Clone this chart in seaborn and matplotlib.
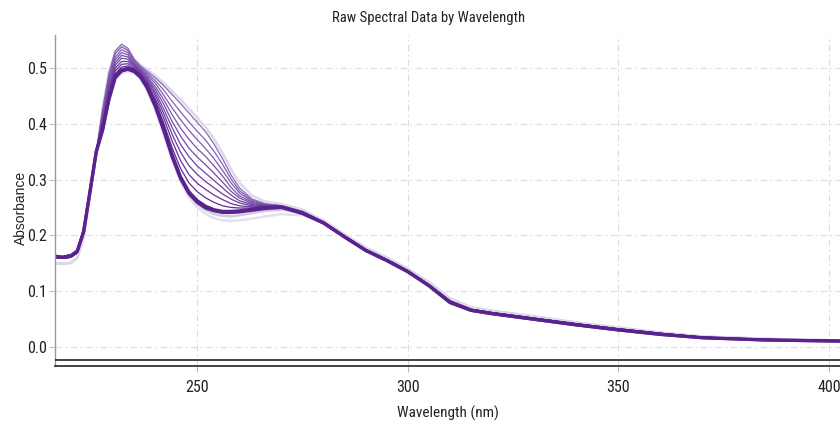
import numpy as np
import pandas as pd
import matplotlib
matplotlib.use("Agg")
import matplotlib.pyplot as plt
from matplotlib.ticker import FormatStrFormatter
import seaborn as sns

# ---------------- data ----------------
wl_head = [216, 218, 220, 221.5, 223, 224.5, 226]
wl_fan = [227.5, 229, 230.5, 232, 233.5, 235, 236.5, 238, 240, 242, 244, 246,
          248, 250, 252, 254, 256, 258, 260, 263, 266, 270, 275]
wl_tail = [280, 285, 290, 295, 300, 305, 310, 315, 320, 330, 340, 350, 360,
           370, 385, 403]

head_dark = [0.163, 0.161, 0.164, 0.172, 0.207, 0.278, 0.350]
head_mid = [0.160, 0.159, 0.161, 0.169, 0.205, 0.277, 0.349]
head_light = [0.150, 0.149, 0.151, 0.160, 0.198, 0.272, 0.346]

tail_dark = [0.222, 0.197, 0.173, 0.155, 0.135, 0.110, 0.080, 0.066, 0.060,
             0.050, 0.040, 0.031, 0.023, 0.017, 0.013, 0.011]
tail_mid = [0.224, 0.199, 0.175, 0.157, 0.137, 0.112, 0.083, 0.068, 0.062,
            0.052, 0.042, 0.033, 0.025, 0.018, 0.014, 0.012]
tail_light = [0.226, 0.201, 0.178, 0.160, 0.140, 0.116, 0.087, 0.071, 0.065,
              0.055, 0.044, 0.035, 0.026, 0.019, 0.015, 0.012]

c0 = [0.390, 0.445, 0.485, 0.496, 0.499, 0.495, 0.485, 0.468, 0.435, 0.393, 0.345, 0.305,
      0.278, 0.262, 0.252, 0.246, 0.243, 0.243, 0.244, 0.247, 0.250, 0.251, 0.240]
d1 = [0.388, 0.443, 0.482, 0.494, 0.497, 0.493, 0.483, 0.465, 0.431, 0.388, 0.341, 0.302,
      0.275, 0.259, 0.249, 0.244, 0.241, 0.241, 0.242, 0.245, 0.248, 0.250, 0.239]
c1 = [0.394, 0.450, 0.489, 0.501, 0.503, 0.497, 0.487, 0.471, 0.440, 0.401, 0.357, 0.320,
      0.294, 0.278, 0.267, 0.259, 0.253, 0.250, 0.249, 0.249, 0.251, 0.251, 0.240]
c2 = [0.398, 0.455, 0.494, 0.506, 0.507, 0.499, 0.489, 0.474, 0.445, 0.410, 0.369, 0.334,
      0.309, 0.293, 0.282, 0.272, 0.264, 0.257, 0.253, 0.251, 0.252, 0.252, 0.241]
c3 = [0.402, 0.460, 0.499, 0.511, 0.511, 0.502, 0.491, 0.477, 0.451, 0.418, 0.381, 0.349,
      0.325, 0.309, 0.296, 0.285, 0.274, 0.265, 0.258, 0.253, 0.252, 0.252, 0.241]
c4 = [0.406, 0.465, 0.504, 0.517, 0.515, 0.504, 0.493, 0.480, 0.456, 0.426, 0.393, 0.363,
      0.341, 0.324, 0.311, 0.298, 0.285, 0.272, 0.262, 0.255, 0.253, 0.252, 0.241]
c5 = [0.409, 0.470, 0.509, 0.522, 0.519, 0.506, 0.495, 0.482, 0.461, 0.435, 0.404, 0.378,
      0.356, 0.340, 0.326, 0.311, 0.295, 0.279, 0.267, 0.257, 0.254, 0.252, 0.242]
c6 = [0.413, 0.475, 0.514, 0.527, 0.523, 0.508, 0.497, 0.485, 0.466, 0.443, 0.416, 0.392,
      0.372, 0.355, 0.341, 0.324, 0.306, 0.286, 0.271, 0.259, 0.254, 0.252, 0.242]
c7 = [0.417, 0.480, 0.519, 0.532, 0.527, 0.511, 0.499, 0.488, 0.472, 0.451, 0.428, 0.407,
      0.388, 0.371, 0.355, 0.337, 0.316, 0.294, 0.276, 0.261, 0.255, 0.253, 0.242]
c8 = [0.421, 0.485, 0.525, 0.537, 0.531, 0.513, 0.501, 0.491, 0.477, 0.460, 0.440, 0.421,
      0.403, 0.386, 0.370, 0.350, 0.327, 0.301, 0.280, 0.263, 0.256, 0.253, 0.243]
c9 = [0.425, 0.490, 0.530, 0.542, 0.535, 0.515, 0.503, 0.494, 0.482, 0.468, 0.452, 0.436,
      0.419, 0.402, 0.385, 0.363, 0.337, 0.308, 0.285, 0.265, 0.257, 0.253, 0.243]
L1 = [0.385, 0.440, 0.478, 0.490, 0.494, 0.490, 0.480, 0.460, 0.425, 0.380, 0.335, 0.296,
      0.268, 0.250, 0.238, 0.231, 0.227, 0.226, 0.227, 0.230, 0.234, 0.238, 0.236]
L2 = [0.387, 0.442, 0.481, 0.493, 0.497, 0.493, 0.483, 0.464, 0.430, 0.387, 0.340, 0.300,
      0.273, 0.256, 0.245, 0.238, 0.235, 0.234, 0.236, 0.240, 0.244, 0.246, 0.241]
L3 = [0.428, 0.492, 0.528, 0.538, 0.532, 0.515, 0.505, 0.497, 0.486, 0.473, 0.458, 0.443,
      0.427, 0.410, 0.393, 0.372, 0.347, 0.318, 0.294, 0.271, 0.261, 0.256, 0.246]

x_ticks = [250, 300, 350, 400]
y_ticks = [0.0, 0.1, 0.2, 0.3, 0.4, 0.5]

# ---------------- assemble long-form tables ----------------
wl_all = wl_head + wl_fan + wl_tail


def build(curves):
    rows = []
    for name, (head, fan, tail) in curves.items():
        vals = head + fan + tail
        for w, v in zip(wl_all, vals):
            rows.append((name, w, v))
    return pd.DataFrame(rows, columns=["curve", "wavelength", "absorbance"])


light_df = build({"L1": (head_light, L1, tail_light),
                  "L2": (head_light, L2, tail_light),
                  "L3": (head_light, L3, tail_light)})
fan_df = build({"c9": (head_mid, c9, tail_mid), "c8": (head_mid, c8, tail_mid),
                "c7": (head_mid, c7, tail_mid), "c6": (head_mid, c6, tail_dark),
                "c5": (head_mid, c5, tail_mid), "c4": (head_dark, c4, tail_dark),
                "c3": (head_mid, c3, tail_mid), "c2": (head_dark, c2, tail_dark),
                "c1": (head_mid, c1, tail_mid)})
dark_df = build({"d1": (head_dark, d1, tail_dark), "c0": (head_dark, c0, tail_dark)})

light_pal = {"L1": "#e3e1ef", "L2": "#cfcae2", "L3": "#dcd8ea"}
fan_cols = sns.blend_palette(["#8c69ba", "#5f2b93"], 9)
fan_pal = {n: c for n, c in zip(["c9", "c8", "c7", "c6", "c5", "c4", "c3", "c2", "c1"], fan_cols)}
dark_pal = {"d1": "#5a228d", "c0": "#5a228d"}

# ---------------- figure ----------------
sns.set_theme(style="white")
plt.rcParams["font.family"] = ["Roboto Condensed", "Liberation Sans Narrow", "DejaVu Sans"]
plt.rcParams["font.stretch"] = "condensed"

fig = plt.figure(figsize=(8.4, 4.26), dpi=100)
ax = fig.add_axes([55 / 840, 1 - 366 / 426, 1 - 55 / 840, (366 - 35) / 426])

sns.lineplot(data=light_df, x="wavelength", y="absorbance", hue="curve", palette=light_pal,
             estimator=None, sort=False, legend=False, linewidth=1.8, ax=ax)
sns.lineplot(data=fan_df, x="wavelength", y="absorbance", hue="curve", palette=fan_pal,
             estimator=None, sort=False, legend=False, linewidth=0.9, ax=ax)
sns.lineplot(data=dark_df, x="wavelength", y="absorbance", hue="curve", palette=dark_pal,
             estimator=None, sort=False, legend=False, linewidth=2.3, ax=ax)

ax.axhline(-0.0235, color="#111111", linewidth=1.1, zorder=3)

ax.set_xlim(216.2, 402.6)
ax.set_ylim(-0.0335, 0.5584)
ax.set_xticks(x_ticks)
ax.set_yticks(y_ticks)
ax.yaxis.set_major_formatter(FormatStrFormatter("%.1f"))
ax.set_xlabel("")
ax.set_ylabel("")

ax.set_axisbelow(True)
ax.grid(True, linestyle=(0, (6, 3, 1.5, 3)), color="#dcdcdc", linewidth=0.8)

for s in ["top", "right"]:
    ax.spines[s].set_visible(False)
ax.spines["left"].set_color("#9a9a9a")
ax.spines["left"].set_linewidth(1.0)
ax.spines["bottom"].set_color("#111111")
ax.spines["bottom"].set_linewidth(1.1)

ax.tick_params(axis="both", bottom=True, left=True, direction="out", length=4,
               width=0.8, color="#bbbbbb", labelsize=11.5, labelcolor="#222222")
ax.tick_params(axis="x", pad=6)
ax.tick_params(axis="y", pad=2)

fig.text(429 / 840, 1 - 18 / 426, "Raw Spectral Data by Wavelength", ha="center",
         va="center", fontsize=10.5, color="#222222")
fig.text(448 / 840, 1 - 413 / 426, "Wavelength (nm)", ha="center", va="center",
         fontsize=11, color="#222222")
fig.text(21 / 840, 1 - 208 / 426, "Absorbance", ha="center", va="center", rotation=90,
         fontsize=10, color="#222222", family=["Liberation Sans", "DejaVu Sans"],
         stretch="normal")

fig.savefig("out.png", dpi=100)
